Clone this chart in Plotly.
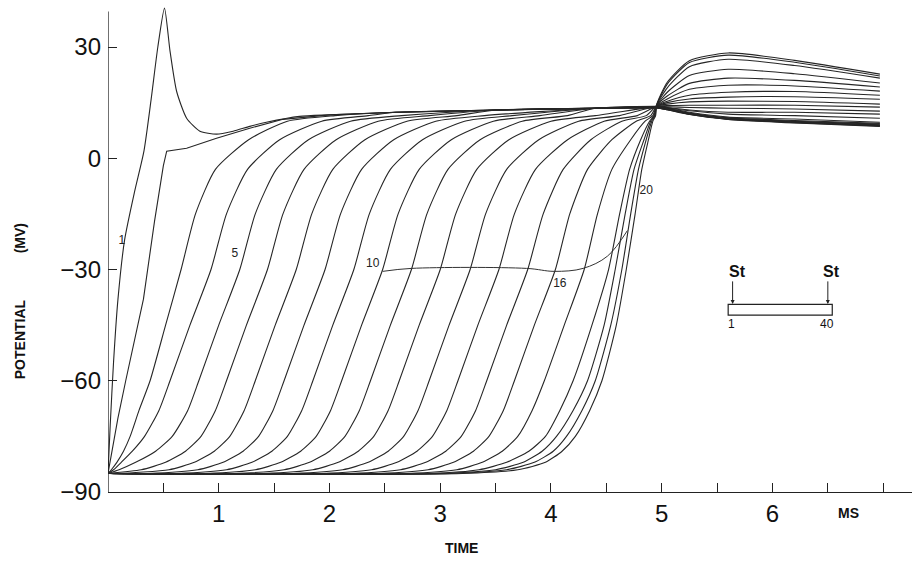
import plotly.graph_objects as go

# ---------------- data ----------------
# voltage levels (mV) at which the crossing times of each rising trace were read
RISE_V = [-85, -84, -82, -79, -75, -68, -60, -45, -30, -15, -3, 5, 10, 11.5]

# crossing times (ms) of traces 3..21 at the levels above
rise_t = [
    [0.00, 0.03, 0.08, 0.14, 0.20, 0.28, 0.38, 0.52, 0.66, 0.79, 0.97, 1.27, 1.62, 2.05],   # 3
    [0.00, 0.05, 0.12, 0.22, 0.33, 0.46, 0.56, 0.74, 0.93, 1.07, 1.26, 1.55, 1.93, 2.35],   # 4
    [0.00, 0.10, 0.25, 0.43, 0.58, 0.72, 0.82, 1.00, 1.19, 1.33, 1.52, 1.81, 2.19, 2.65],   # 5
    [0.00, 0.30, 0.52, 0.70, 0.84, 0.97, 1.07, 1.25, 1.44, 1.58, 1.77, 2.06, 2.44, 2.90],   # 6
    [0.10, 0.55, 0.78, 0.96, 1.10, 1.23, 1.33, 1.51, 1.70, 1.84, 2.03, 2.32, 2.70, 3.15],   # 7
    [0.36, 0.81, 1.04, 1.22, 1.36, 1.49, 1.59, 1.77, 1.96, 2.10, 2.29, 2.58, 2.96, 3.40],   # 8
    [0.62, 1.07, 1.30, 1.48, 1.62, 1.75, 1.85, 2.03, 2.22, 2.36, 2.55, 2.84, 3.22, 3.65],   # 9
    [0.88, 1.33, 1.56, 1.74, 1.88, 2.01, 2.11, 2.29, 2.48, 2.62, 2.81, 3.10, 3.48, 3.90],   # 10
    [1.14, 1.59, 1.82, 2.00, 2.14, 2.27, 2.37, 2.55, 2.74, 2.88, 3.07, 3.36, 3.74, 4.15],   # 11
    [1.40, 1.85, 2.08, 2.26, 2.40, 2.53, 2.63, 2.81, 3.00, 3.14, 3.33, 3.62, 4.00, 4.40],   # 12
    [1.67, 2.12, 2.35, 2.53, 2.67, 2.80, 2.90, 3.08, 3.27, 3.41, 3.60, 3.89, 4.25, 4.62],   # 13
    [1.93, 2.38, 2.61, 2.79, 2.93, 3.06, 3.16, 3.34, 3.53, 3.67, 3.86, 4.15, 4.48, 4.78],   # 14
    [2.19, 2.64, 2.87, 3.05, 3.19, 3.32, 3.42, 3.60, 3.79, 3.93, 4.11, 4.36, 4.64, 4.86],   # 15
    [2.44, 2.89, 3.12, 3.30, 3.44, 3.57, 3.67, 3.85, 4.04, 4.17, 4.33, 4.55, 4.77, 4.90],   # 16
    [2.70, 3.15, 3.38, 3.56, 3.70, 3.83, 3.94, 4.12, 4.30, 4.42, 4.55, 4.72, 4.85, 4.92],   # 17
    [2.90, 3.35, 3.60, 3.80, 3.95, 4.08, 4.20, 4.37, 4.52, 4.62, 4.71, 4.81, 4.89, 4.93],   # 18
    [3.00, 3.50, 3.75, 3.92, 4.05, 4.20, 4.33, 4.48, 4.58, 4.67, 4.75, 4.84, 4.90, 4.935],  # 19
    [3.10, 3.60, 3.85, 4.02, 4.14, 4.28, 4.40, 4.54, 4.64, 4.72, 4.79, 4.86, 4.91, 4.94],   # 20
    [3.20, 3.70, 3.95, 4.10, 4.22, 4.35, 4.46, 4.59, 4.68, 4.76, 4.82, 4.88, 4.92, 4.945],  # 21
]

# trace 1 (stimulated, spike) and trace 2
c1_t = [0, 0.02, 0.05, 0.09, 0.15, 0.24, 0.325, 0.39, 0.45, 0.51, 0.56, 0.62, 0.71, 0.83, 0.98, 1.13, 1.28, 1.43]
c1_v = [-85, -72, -55, -38, -22, -9, 2, 16, 30, 40.5, 28.9, 18.0, 10.8, 7.3, 6.5, 7.3, 8.6, 9.7]
c2_t = [0, 0.04, 0.09, 0.16, 0.24, 0.32, 0.42, 0.50, 0.53, 0.71, 0.98, 1.28, 1.58]
c2_v = [-85, -78, -70, -60, -49, -38, -17, -2, 1.9, 2.7, 5.4, 8.1, 10.5]

# common plateau envelope before the convergence point
ENV_T = [1.73, 2.0, 2.6, 3.5, 4.4]
ENV_V = [11.3, 11.7, 12.4, 13.0, 13.5]

# late phase: values of traces 1..21 at these times (first column = crossing point near 5 ms)
POST_T = [4.955, 5.05, 5.25, 5.6, 6.2, 6.97]
post_v = [
    [13.6, 13.1, 11.8, 10.5, 9.5, 8.6],    # 1
    [13.6, 13.1, 11.9, 10.5, 9.6, 8.7],    # 2
    [13.6, 13.2, 11.9, 10.6, 9.7, 8.8],    # 3
    [13.7, 13.2, 12.0, 10.6, 9.8, 8.9],    # 4
    [13.7, 13.3, 12.0, 10.7, 9.9, 9.0],    # 5
    [13.7, 13.3, 12.1, 10.8, 10.0, 9.2],   # 6
    [13.8, 13.4, 12.2, 10.9, 10.2, 9.4],   # 7
    [13.8, 13.5, 12.4, 11.1, 10.6, 9.7],   # 8
    [13.9, 13.6, 12.8, 11.9, 11.5, 10.8],  # 9
    [13.9, 13.7, 13.0, 12.4, 12.4, 11.9],  # 10
    [14.0, 13.9, 13.7, 13.5, 13.3, 12.7],  # 11
    [14.0, 14.2, 14.3, 14.3, 14.3, 13.8],  # 12
    [14.1, 14.6, 15.2, 15.4, 15.3, 14.6],  # 13
    [14.1, 15.0, 16.0, 16.5, 16.6, 15.9],  # 14
    [14.2, 15.4, 17.0, 17.8, 18.0, 17.0],  # 15
    [14.2, 16.0, 18.6, 19.7, 19.5, 18.1],  # 16
    [14.3, 16.8, 20.2, 21.6, 21.0, 19.2],  # 17
    [14.3, 17.8, 22.3, 24.0, 22.8, 20.3],  # 18
    [14.4, 19.0, 24.7, 26.7, 25.0, 21.6],  # 19
    [14.4, 20.0, 25.8, 27.8, 25.9, 22.2],  # 20
    [14.5, 20.5, 26.3, 28.4, 26.4, 22.7],  # 21
]

# line joining the -30 mV crossings (traces 10 .. 20)
mark_t = [2.48, 2.74, 3.78, 4.03, 4.29, 4.51, 4.69]
mark_v = [-30.5, -29.7, -29.7, -30.5, -29.7, -26.4, -19.5]

# trace number labels
lab_text = ["1", "5", "10", "16", "20"]
lab_t = [0.126, 1.146, 2.39, 4.08, 4.86]
lab_v = [-22.4, -25.9, -28.6, -34.0, -8.9]

X_TICKS = [0.5, 1, 1.5, 2, 2.5, 3, 3.5, 4, 4.5, 5, 5.5, 6, 6.5, 7]
X_LABELS = ["", "1", "", "2", "", "3", "", "4", "", "5", "", "6", "", ""]
Y_TICKS = [-90, -60, -30, 0, 30]
Y_LABELS = ["\u221290", "\u221260", "\u221230", "0", "30"]

# ---------------- build traces ----------------
LINE = dict(color="#262626", width=1.1)
fig = go.Figure()


def add_curve(t, v, idx, last_t, shape="spline"):
    tt, vv = list(t), list(v)
    for et, ev in zip(ENV_T, ENV_V):
        if et > last_t + 0.2:
            tt.append(et); vv.append(ev)
    tt += POST_T; vv += post_v[idx]
    fig.add_trace(go.Scatter(x=tt, y=vv, mode="lines", line=dict(LINE, shape=shape, smoothing=0.6),
                             hoverinfo="skip", showlegend=False, cliponaxis=False))


add_curve(c1_t, c1_v, 0, c1_t[-1])
add_curve(c2_t, c2_v, 1, c2_t[-1], shape="linear")
for k, row in enumerate(rise_t):
    t = ([0.0] if row[0] > 0 else []) + row
    v = ([-85] if row[0] > 0 else []) + RISE_V
    add_curve(t, v, k + 2, row[-1])

fig.add_trace(go.Scatter(x=mark_t, y=mark_v, mode="lines", line=dict(color="#333", width=1.0, shape="spline"),
                         hoverinfo="skip", showlegend=False))

fig.add_trace(go.Scatter(x=lab_t, y=lab_v, mode="text", text=lab_text,
                         textfont=dict(family="Liberation Sans", size=12, color="#222"),
                         hoverinfo="skip", showlegend=False))

# ---------------- layout ----------------
FONT = "Liberation Sans, Arial, sans-serif"
fig.update_layout(
    width=916, height=568,
    margin=dict(l=108, r=4, t=4, b=76),
    paper_bgcolor="white", plot_bgcolor="white",
    font=dict(family=FONT, color="#111"),
    xaxis=dict(range=[0, 7.26], tickvals=X_TICKS, ticktext=X_LABELS, ticks="inside", ticklen=9,
               tickwidth=1.2, tickcolor="#222", showline=True, linecolor="#222", linewidth=1.3,
               showgrid=False, zeroline=False, tickfont=dict(size=24, family=FONT, color="#111"),
               ticklabelstandoff=0, automargin=False),
    yaxis=dict(range=[-90, 41.6], tickvals=Y_TICKS, ticktext=Y_LABELS, ticks="inside", ticklen=9,
               tickwidth=1.2, tickcolor="#222", showline=False, showgrid=False, zeroline=False,
               tickfont=dict(size=24, family=FONT, color="#111"), ticklabelstandoff=6, automargin=False),
)

# y axis line
fig.add_shape(type="line", x0=0, x1=0, y0=-90, y1=39.6, xref="x", yref="y", line=dict(color="#222", width=1.3))

# inset: stimulus box
fig.add_shape(type="rect", x0=5.60, x1=6.54, y0=-42.3, y1=-39.4, xref="x", yref="y",
              line=dict(color="#222", width=1.2))
for xs in (5.64, 6.50):
    fig.add_annotation(x=xs, y=-39.3, ax=xs, ay=-32.8, xref="x", yref="y", axref="x", ayref="y",
                       text="", showarrow=True, arrowhead=2, arrowsize=0.8, arrowwidth=1, arrowcolor="#222")
fig.add_annotation(x=5.68, y=-30.6, text="<b>St</b>", showarrow=False, font=dict(size=16, family=FONT))
fig.add_annotation(x=6.53, y=-30.6, text="<b>St</b>", showarrow=False, font=dict(size=16, family=FONT))
fig.add_annotation(x=5.63, y=-44.6, text="1", showarrow=False, font=dict(size=12, family=FONT))
fig.add_annotation(x=6.49, y=-44.6, text="40", showarrow=False, font=dict(size=12, family=FONT))

# axis titles
fig.add_annotation(xref="paper", yref="y", x=(20 - 108) / 804, y=-48.8, text="<b>POTENTIAL</b>", textangle=-90,
                   xanchor="center", yanchor="middle", showarrow=False, font=dict(size=14, family=FONT))
fig.add_annotation(xref="paper", yref="y", x=(20 - 108) / 804, y=-21.6, text="<b>(MV)</b>", textangle=-90,
                   xanchor="center", yanchor="middle", showarrow=False, font=dict(size=14, family=FONT))
fig.add_annotation(xref="x", yref="paper", x=3.196, y=(492 - 548) / 488, text="<b>TIME</b>",
                   xanchor="center", yanchor="middle", showarrow=False, font=dict(size=14, family=FONT))
fig.add_annotation(xref="x", yref="paper", x=6.69, y=(492 - 513) / 488, text="<b>MS</b>",
                   xanchor="center", yanchor="middle", showarrow=False, font=dict(size=14, family=FONT))

fig.write_html("out.html", config={"displayModeBar": False},
               post_script="document.body.style.margin='0px';")
